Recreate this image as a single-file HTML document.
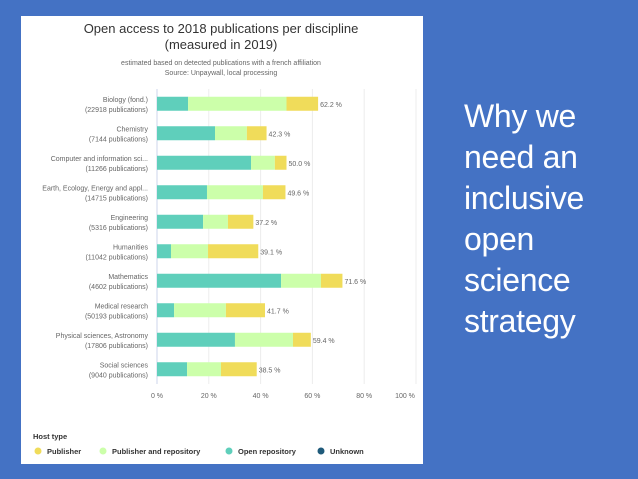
<!DOCTYPE html>
<html><head><meta charset="utf-8"><style>
html,body{margin:0;padding:0;}
body{width:638px;height:479px;background:#4472C4;position:relative;overflow:hidden;font-family:"Liberation Sans",sans-serif;}
#panel{position:absolute;left:21px;top:16px;width:402px;height:448px;background:#fff;}
#side{position:absolute;left:464px;top:96px;color:#fff;font-size:32px;line-height:41px;letter-spacing:-0.3px;}
</style></head><body>
<div id="panel"></div>
<svg id="chart" width="638" height="479" style="position:absolute;left:0;top:0" font-family="Liberation Sans, sans-serif"></svg>
<div id="side">Why we<br>need an<br>inclusive<br>open<br>science<br>strategy</div>
<script>
const categories=["Biology (fond.)","Chemistry","Computer and information sci...","Earth, Ecology, Energy and appl...","Engineering","Humanities","Mathematics","Medical research","Physical sciences, Astronomy","Social sciences"];
const pubCounts=[22918,7144,11266,14715,5316,11042,4602,50193,17806,9040];
const openRepo=[12.0,22.4,36.3,19.3,17.8,5.4,47.9,6.6,30.1,11.6];
const pubAndRepo=[38.0,12.3,9.2,21.6,9.6,14.3,15.4,20.0,22.4,13.1];
const totals=[62.2,42.3,50.0,49.6,37.2,39.1,71.6,41.7,59.4,38.5];
const ticks=[0,20,40,60,80,100];
const ns="http://www.w3.org/2000/svg";
const svg=document.getElementById('chart');
const x0=157,x1=416,top0=89,rowH=29.5;
const xs=v=>x0+(x1-x0)*v/100;
const yc=i=>top0+rowH*(i+0.5);
function mk(tag,attrs,txt){const e=document.createElementNS(ns,tag);for(const k in attrs)e.setAttribute(k,attrs[k]);if(txt!==undefined)e.textContent=txt;svg.appendChild(e);return e;}
let t;
t=mk('text',{x:221,y:33,'text-anchor':'middle','font-size':13,fill:'#333'},'Open access to 2018 publications per discipline');

t=mk('text',{x:221,y:49,'text-anchor':'middle','font-size':13,fill:'#333'},'(measured in 2019)');

t=mk('text',{x:221,y:65,'text-anchor':'middle','font-size':7,fill:'#666'},'estimated based on detected publications with a french affiliation');

t=mk('text',{x:221,y:75,'text-anchor':'middle','font-size':7,fill:'#666'},'Source: Unpaywall, local processing');

ticks.forEach(v=>{
 const g=mk('line',{x1:xs(v),x2:xs(v),y1:top0,y2:top0+rowH*10,stroke:v===0?'#ccd6eb':'#ececec','stroke-width':1});
 
 const lx=v===100?Math.min(xs(v),405):xs(v);
 const l=mk('text',{x:lx,y:398,'text-anchor':'middle','font-size':7,fill:'#666'},v+' %');
 
});
categories.forEach((c,i)=>{
 const y=yc(i),h=14;
 const a=mk('text',{x:148,y:y-2,'text-anchor':'end','font-size':7,fill:'#666'},c);
 
 const b=mk('text',{x:148,y:y+8,'text-anchor':'end','font-size':7,fill:'#666'},'('+pubCounts[i]+' publications)');
 
 const r1=mk('rect',{x:xs(0),y:y-h/2,width:xs(openRepo[i])-xs(0),height:h,fill:'#5fcfbb'});
 
 const s2=openRepo[i]+pubAndRepo[i];
 const r2=mk('rect',{x:xs(openRepo[i]),y:y-h/2,width:xs(s2)-xs(openRepo[i]),height:h,fill:'#ccffaa'});
 
 const r3=mk('rect',{x:xs(s2),y:y-h/2,width:xs(totals[i])-xs(s2),height:h,fill:'#f0dc5a'});
 
 const v=mk('text',{x:xs(totals[i])+2,y:y+3,'font-size':7,fill:'#666'},totals[i].toFixed(1)+' %');
 
});
t=mk('text',{x:33,y:439,'font-size':7.5,'font-weight':'bold',fill:'#333'},'Host type');

const legNames=["Publisher","Publisher and repository","Open repository","Unknown"];
const legColors=["#f0dc5a","#ccffaa","#5fcfbb","#1f5a7a"];
const legX=[38,103,229,321];
legNames.forEach((n,i)=>{
 const c=mk('circle',{cx:legX[i],cy:451,r:3.5,fill:legColors[i]});
 
 const l=mk('text',{x:legX[i]+9,y:454,'font-size':7.5,'font-weight':'bold',fill:'#333'},n);
 
});
</script>
</body></html>
